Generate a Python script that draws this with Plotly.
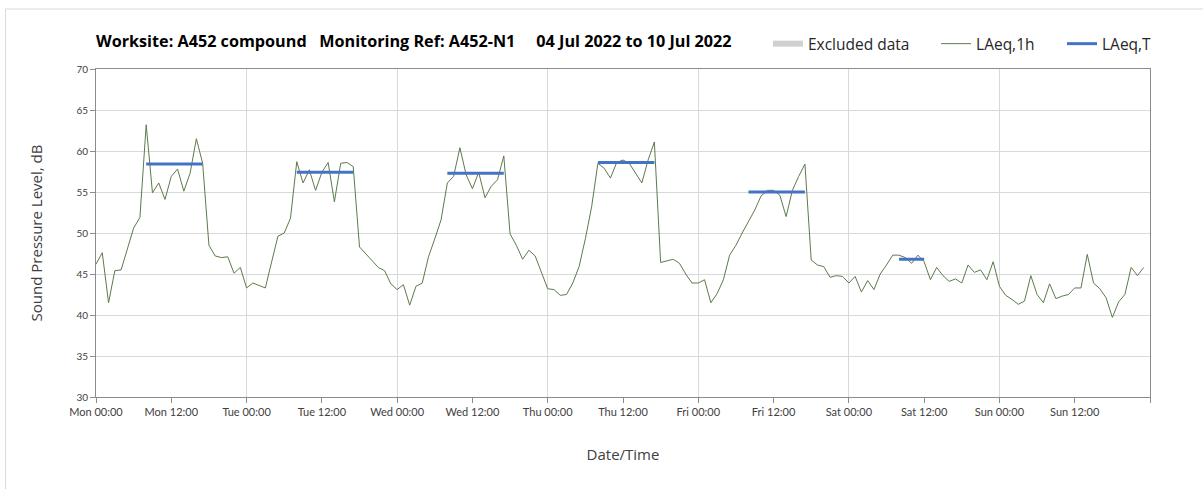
import datetime as dt
import plotly.graph_objects as go

# ---------------- data ----------------
start = dt.datetime(2022, 7, 4, 0, 0)

laeq_1h = [
    # Mon
    46.2, 47.6, 41.5, 45.4, 45.5, 48.0, 50.6, 51.9, 63.2, 54.9, 56.1, 54.1,
    56.9, 57.8, 55.1, 57.3, 61.5, 58.5, 48.5, 47.2, 47.0, 47.1, 45.1, 45.8,
    # Tue
    43.3, 43.9, 43.6, 43.3, 46.5, 49.6, 50.0, 51.8, 58.7, 56.1, 57.7, 55.2,
    57.4, 58.6, 53.8, 58.5, 58.6, 58.1, 48.3, 47.5, 46.6, 45.8, 45.4, 43.8,
    # Wed
    43.1, 43.7, 41.2, 43.5, 43.9, 47.1, 49.3, 51.6, 56.1, 56.9, 60.4, 57.1,
    55.4, 57.4, 54.3, 55.7, 56.5, 59.4, 49.9, 48.5, 46.8, 47.9, 47.2, 45.3,
    # Thu
    43.2, 43.1, 42.4, 42.5, 43.9, 45.9, 49.3, 53.2, 58.5, 57.9, 56.7, 58.6,
    58.9, 58.5, 57.3, 56.1, 58.9, 61.1, 46.4, 46.6, 46.8, 46.3, 45.0, 43.9,
    # Fri
    43.9, 44.3, 41.5, 42.6, 44.3, 47.3, 48.5, 50.0, 51.4, 52.8, 54.5, 55.2,
    55.2, 54.6, 52.0, 55.2, 56.9, 58.4, 46.7, 46.1, 45.9, 44.6, 44.8, 44.7,
    # Sat
    43.9, 44.7, 42.8, 44.2, 43.1, 45.0, 46.1, 47.3, 47.3, 47.0, 46.3, 47.3,
    46.5, 44.3, 45.8, 44.8, 44.1, 44.4, 43.9, 46.1, 45.2, 45.5, 44.3, 46.5,
    # Sun
    43.5, 42.4, 41.9, 41.3, 41.7, 44.8, 42.5, 41.5, 43.8, 42.0, 42.3, 42.5,
    43.3, 43.3, 47.4, 43.9, 43.2, 42.1, 39.7, 41.6, 42.5, 45.8, 44.8, 45.8,
]
hour_times = [start + dt.timedelta(hours=i) for i in range(len(laeq_1h))]

# LAeq,T periods (start, end, level)
period_start = ["2022-07-04 08:00", "2022-07-05 08:00", "2022-07-06 08:00",
                "2022-07-07 08:00", "2022-07-08 08:00", "2022-07-09 08:00"]
period_end = ["2022-07-04 17:00", "2022-07-05 17:00", "2022-07-06 17:00",
              "2022-07-07 17:00", "2022-07-08 17:00", "2022-07-09 12:00"]
laeq_t = [58.4, 57.4, 57.3, 58.6, 55.0, 46.8]

tick_vals = ["2022-07-04 00:00", "2022-07-04 12:00", "2022-07-05 00:00", "2022-07-05 12:00",
             "2022-07-06 00:00", "2022-07-06 12:00", "2022-07-07 00:00", "2022-07-07 12:00",
             "2022-07-08 00:00", "2022-07-08 12:00", "2022-07-09 00:00", "2022-07-09 12:00",
             "2022-07-10 00:00", "2022-07-10 12:00", "2022-07-11 00:00"]
tick_text = ["Mon 00:00", "Mon 12:00", "Tue 00:00", "Tue 12:00", "Wed 00:00", "Wed 12:00",
             "Thu 00:00", "Thu 12:00", "Fri 00:00", "Fri 12:00", "Sat 00:00", "Sat 12:00",
             "Sun 00:00", "Sun 12:00", ""]
day_grid = ["2022-07-04", "2022-07-05", "2022-07-06", "2022-07-07",
            "2022-07-08", "2022-07-09", "2022-07-10", "2022-07-11"]
x_range = ["2022-07-04 00:00", "2022-07-11 00:00"]

title_text = ("Worksite: A452 compound\u00a0\u00a0 Monitoring Ref: A452-N1"
              "\u00a0\u00a0\u00a0\u00a0 04 Jul 2022 to 10 Jul 2022")

# ---------------- figure ----------------
FONT = "Lato"
FONT2 = "Open Sans"
seg_x, seg_y = [], []
for s, e, v in zip(period_start, period_end, laeq_t):
    seg_x += [s, e, None]
    seg_y += [v, v, None]

fig = go.Figure()
fig.add_trace(go.Scatter(x=[None], y=[None], xaxis="x2", showlegend=False, hoverinfo="skip"))
fig.add_trace(go.Scatter(
    x=[None], y=[None], mode="none", fill="toself", fillcolor="#d0d0d0",
    name="Excluded data", legend="legend"))
fig.add_trace(go.Scatter(
    x=hour_times, y=laeq_1h, mode="lines", line=dict(color="#5b7b4b", width=1),
    name="LAeq,1h", legend="legend2"))
fig.add_trace(go.Scatter(
    x=seg_x, y=seg_y, mode="lines", line=dict(color="#4472C4", width=3),
    name="LAeq,T", legend="legend3"))

leg_common = dict(orientation="h", yanchor="middle", y=1.076, xanchor="left",
                  font=dict(family=FONT2, size=15.5, color="#262626"),
                  bgcolor="rgba(0,0,0,0)", itemwidth=30)
fig.update_layout(
    width=1203, height=489,
    margin=dict(l=95.5, r=53, t=69, b=92),
    paper_bgcolor="white", plot_bgcolor="white",
    font=dict(family=FONT, color="#404040"),
    title=dict(text=title_text, x=0, xref="paper", xanchor="left",
               y=1 - 41 / 489, yanchor="middle",
               font=dict(family=FONT2, size=16.2, color="#000000", weight="bold")),
    legend=dict(x=0.6375, **leg_common),
    legend2=dict(x=0.797, **leg_common),
    legend3=dict(x=0.9165, **leg_common),
    xaxis=dict(
        type="date", range=x_range, tickmode="array", tickvals=tick_vals, ticktext=tick_text,
        showgrid=False, showline=True, linecolor="#8c8c8c", linewidth=1, mirror=True,
        ticks="outside", ticklen=5, tickcolor="#8c8c8c",
        tickfont=dict(family=FONT, size=11, color="#404040"),
        title=dict(text="Date/Time", font=dict(family=FONT2, size=15, color="#404040"), standoff=32),
        zeroline=False,
    ),
    xaxis2=dict(
        type="date", overlaying="x", matches="x", range=x_range, tickmode="array",
        tickvals=day_grid, showticklabels=False, ticks="", showgrid=True,
        gridcolor="#d9d9d9", gridwidth=1, showline=False, zeroline=False,
    ),
    yaxis=dict(
        range=[30, 70], dtick=5, showgrid=True, gridcolor="#d9d9d9", gridwidth=1,
        showline=True, linecolor="#8c8c8c", linewidth=1, mirror=True,
        ticks="outside", ticklen=5, tickcolor="#8c8c8c",
        tickfont=dict(family=FONT, size=10, color="#404040"),
        title=dict(text="Sound Pressure Level, dB", font=dict(family=FONT2, size=15, color="#404040"),
                   standoff=30),
        zeroline=False,
    ),
    shapes=[dict(type="rect", xref="paper", yref="paper",
                 x0=(5 - 95.5) / 1054.5, x1=1.2, y0=-0.5, y1=(397 - 9) / 328,
                 line=dict(color="#d9d9d9", width=1), fillcolor="rgba(0,0,0,0)", layer="below")],
)

fig.write_html("out.html", config={"displayModeBar": False},
               post_script="document.body.style.margin='0px';")
